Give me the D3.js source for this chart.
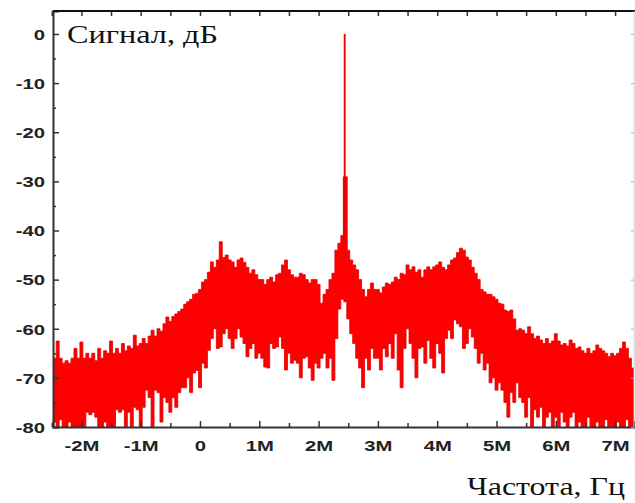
<!DOCTYPE html>
<html>
<head>
<meta charset="utf-8">
<script src="https://cdn.jsdelivr.net/npm/d3@7"></script>
<style>
  html, body { margin: 0; background: #fff; }
  svg { display: block; }
</style>
</head>
<body>
<div id="chart"></div>
<script>
// spectrum bins: start frequency and step, MHz
const freqStart = -2.5;
const freqStep = 0.05;

// upper edge of the noise band per bin, dB
const upperDb = [
  -67, -66, -62.5, -66, -67, -66.5, -67, -66, -64, -66,
  -62.7, -66, -65, -66, -65, -66.5, -64, -66, -64.5, -65, -62.5, -65, -64, -65, -63, -64.5, -63.5, -64, -61.3, -63.5,
  -63, -62, -63, -61.5, -60.3, -61.5, -60, -60.5, -59, -57.6, -58.5, -57.5, -57, -56.5, -56, -55, -54.5, -54, -53, -52.8,
  -52, -50.5, -50, -48.5, -46.4, -47.5, -46, -42.3, -45.5, -45, -46, -46.4, -47.5, -46, -45.6, -46.5, -47.5, -48.7, -48, -49,
  -50, -50, -51, -50, -49.5, -50.5, -49, -48.7, -47, -46, -48, -49, -49.5, -49.5, -48.7, -49, -50, -50.7, -50, -50,
  -51, -54.8, -53, -52, -50, -48.7, -44, -42.6, -41, -41.3, -44, -46, -47, -48, -50, -52, -53.5, -52, -50.7, -52,
  -52, -52.7, -51.5, -50.7, -51, -50.5, -49.5, -50, -48.7, -49, -47, -48, -47.4, -48.5, -48, -49.5, -48, -47.4, -48, -47.4,
  -47, -46.4, -47.5, -48, -47, -46, -45.6, -44.5, -43.6, -44, -45.4, -46, -47.5, -48.7, -50, -52, -52.5, -53, -53, -53.5,
  -54, -54.8, -55, -56.2, -56.5, -56.2, -58, -60.3, -60, -60.3, -61, -59.6, -61, -62, -61.5, -62.3, -63, -62, -63, -62.5,
  -61, -62.5, -63.3, -63, -63.5, -62.3, -63, -64, -63.7, -64.5, -65, -64, -65, -64.5, -63.3, -64, -64.5, -65, -65.7, -65,
  -65.5, -65, -64, -62.7, -64, -66, -68, -68
];

// lower edge of the noise band per bin, dB
const lowerDb = [
  -80, -79, -80, -78.5, -80, -80, -79, -80, -80, -80,
  -80, -80, -77, -77.5, -77, -78, -80, -80, -79, -80, -80, -80, -76.5, -77, -76.5, -80, -77, -80, -76, -76.5,
  -80, -76, -72.5, -74, -80, -72.5, -73, -79, -74, -75, -77, -74, -76, -73, -72, -72, -70, -73, -69, -68.5,
  -72, -67, -68, -64.4, -62, -60, -64, -63.7, -61, -60, -62, -64, -62, -60, -61.7, -63, -65.7, -64, -63, -66,
  -65, -66, -67.8, -68, -63, -64, -63.7, -61.7, -64, -68.4, -65, -67, -66.4, -67, -70, -66, -65.7, -68, -70.5, -67,
  -68, -66, -65, -68, -66, -70.5, -62, -56, -54, -54.5, -58, -61, -63, -66, -68, -72, -66, -68.4, -64, -66,
  -66, -68.4, -64, -65.7, -63, -66, -61, -68.4, -72, -64, -60, -63, -66, -70, -64, -63.7, -67, -62.4, -66, -68,
  -63, -65, -69, -62, -60.3, -62, -58.2, -59, -59.6, -64, -63, -60, -61.7, -64, -67, -65, -68.4, -67, -71, -70,
  -72.5, -71, -72.5, -75, -78, -73, -75, -71, -74, -75, -78, -74, -80, -76.5, -78, -76, -80, -78, -77, -80,
  -78, -80, -77, -79, -80, -78, -77, -80, -79, -80, -80, -78, -80, -80, -79, -80, -80, -78.5, -80, -80,
  -80, -79, -80, -80, -78.5, -80, -80, -80
];

// carrier line: frequency (MHz), top and bottom level (dB), half width (MHz)
const carrierParts = [
  { f: 2.44, top: 0,   bottom: -41, half: 0.016 },
  { f: 2.45, top: -29, bottom: -44, half: 0.04 }
];

const yTicks = [0, -10, -20, -30, -40, -50, -60, -70, -80];
const yTickLabels = ['0', '-10', '-20', '-30', '-40', '-50', '-60', '-70', '-80'];
const yMinorTicks = [-5, -15, -25, -35, -45, -55, -65, -75];
const xTicks = [-2, -1, 0, 1, 2, 3, 4, 5, 6, 7];
const xTickLabels = ['-2M', '-1M', '0', '1M', '2M', '3M', '4M', '5M', '6M', '7M'];
const xMinorTicks = [-2.5, -1.5, -0.5, 0.5, 1.5, 2.5, 3.5, 4.5, 5.5, 6.5];

const yLabel = 'Сигнал, дБ';
const xLabel = 'Частота, Гц';

const W = 635, H = 503;
const plot = { left: 53, right: 634, top: 11, bottom: 427 };
const stretch = 1.35; // text in the source is widened horizontally

const x = d3.scaleLinear().domain([-2.479, 7.319]).range([plot.left, plot.right]);
const y = d3.scaleLinear().domain([-80, 4.68]).range([plot.bottom, plot.top]);

const svg = d3.select('#chart').append('svg')
  .attr('width', W).attr('height', H)
  .attr('viewBox', `0 0 ${W} ${H}`);

svg.append('defs').append('clipPath').attr('id', 'clip')
  .append('rect')
  .attr('x', plot.left).attr('y', plot.top)
  .attr('width', plot.right - plot.left).attr('height', plot.bottom - plot.top);

const bins = upperDb.map((u, i) => ({ f: freqStart + i * freqStep, hi: u, lo: lowerDb[i] }));

const dataG = svg.append('g').attr('clip-path', 'url(#clip)');

// noise band
dataG.append('path')
  .datum(bins)
  .attr('fill', '#ff0000')
  .attr('stroke', '#e00000')
  .attr('stroke-width', 0.8)
  .attr('d', d3.area()
    .curve(d3.curveStep)
    .x(d => x(d.f))
    .y0(d => y(d.lo))
    .y1(d => y(d.hi)));

// carrier
dataG.selectAll('rect.carrier')
  .data(carrierParts)
  .join('rect')
  .attr('class', 'carrier')
  .attr('x', d => x(d.f - d.half))
  .attr('width', d => x(d.f + d.half) - x(d.f - d.half))
  .attr('y', d => y(d.top))
  .attr('height', d => y(d.bottom) - y(d.top))
  .attr('fill', '#f00000');

// axes
const axisColor = '#333';

const gLeft = svg.append('g').attr('transform', `translate(${plot.left},0)`)
  .call(d3.axisLeft(y).tickValues(yTicks).tickSize(-6).tickFormat((d, i) => yTickLabels[i]));
svg.append('g').attr('transform', `translate(${plot.left},0)`)
  .call(d3.axisLeft(y).tickValues(yMinorTicks).tickSize(-3).tickFormat(''))
  .call(g => g.select('.domain').remove());

const gBottom = svg.append('g').attr('transform', `translate(0,${plot.bottom})`)
  .call(d3.axisBottom(x).tickValues(xTicks).tickSize(-6).tickFormat((d, i) => xTickLabels[i]));
svg.append('g').attr('transform', `translate(0,${plot.bottom})`)
  .call(d3.axisBottom(x).tickValues(xMinorTicks).tickSize(-4).tickFormat(''))
  .call(g => g.select('.domain').remove());

svg.append('g').attr('transform', `translate(0,${plot.top})`)
  .call(d3.axisTop(x).tickValues(xTicks.concat(xMinorTicks)).tickSize(-5).tickFormat(''))
  .call(g => g.select('.domain').remove());

svg.selectAll('.domain').attr('stroke', axisColor).attr('stroke-width', 2);
svg.selectAll('.tick line').attr('stroke', axisColor).attr('stroke-width', 1.5);

// faint right-hand ticks
svg.append('g').attr('transform', `translate(${plot.right},0)`)
  .call(d3.axisRight(y).tickValues(yTicks).tickSize(-3).tickFormat(''))
  .call(g => g.select('.domain').remove())
  .selectAll('line').attr('stroke', '#aaa');

// frame top and right
svg.append('line')
  .attr('x1', plot.left).attr('x2', W).attr('y1', plot.top).attr('y2', plot.top)
  .attr('stroke', '#111').attr('stroke-width', 2);
svg.append('line')
  .attr('x1', plot.right).attr('x2', plot.right).attr('y1', plot.top).attr('y2', plot.bottom)
  .attr('stroke', '#ccc').attr('stroke-width', 1);

// tick label styling (source is stretched horizontally)
gLeft.selectAll('.tick text')
  .attr('x', -8 / stretch)
  .attr('dy', '0.35em')
  .attr('transform', `scale(${stretch},1)`);
gBottom.selectAll('.tick text')
  .attr('y', 24).attr('dy', 0)
  .attr('transform', `scale(${stretch},1)`);
svg.selectAll('.tick text')
  .attr('font-family', '"Liberation Sans", Arial, sans-serif')
  .attr('font-size', 15)
  .attr('font-weight', 'bold')
  .attr('fill', '#222');

// titles
svg.append('text')
  .attr('x', 67).attr('y', 43)
  .attr('font-family', '"Liberation Serif", "Times New Roman", serif')
  .attr('font-size', 25)
  .attr('fill', '#111')
  .attr('textLength', 151)
  .attr('lengthAdjust', 'spacingAndGlyphs')
  .text(yLabel);

svg.append('text')
  .attr('x', 467).attr('y', 495)
  .attr('font-family', '"Liberation Serif", "Times New Roman", serif')
  .attr('font-size', 26)
  .attr('fill', '#111')
  .attr('textLength', 158)
  .attr('lengthAdjust', 'spacingAndGlyphs')
  .text(xLabel);
</script>
</body>
</html>
